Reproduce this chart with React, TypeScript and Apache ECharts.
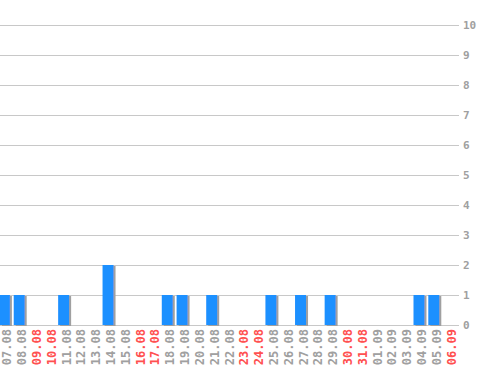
import React, { useEffect, useRef } from "react";
import * as echarts from "echarts";

const categories = [
  "07.08", "08.08", "09.08", "10.08", "11.08", "12.08", "13.08", "14.08", "15.08", "16.08",
  "17.08", "18.08", "19.08", "20.08", "21.08", "22.08", "23.08", "24.08", "25.08", "26.08",
  "27.08", "28.08", "29.08", "30.08", "31.08", "01.09", "02.09", "03.09", "04.09", "05.09", "06.09",
];
const values = [1, 1, 0, 0, 1, 0, 0, 2, 0, 0, 0, 1, 1, 0, 1, 0, 0, 0, 1, 0, 1, 0, 1, 0, 0, 0, 0, 0, 1, 1, 0];
const weekends = ["09.08", "10.08", "16.08", "17.08", "23.08", "24.08", "30.08", "31.08", "06.09"];
const yTicks = [0, 1, 2, 3, 4, 5, 6, 7, 8, 9, 10];

export default function App() {
  const ref = useRef<HTMLDivElement>(null);
  useEffect(() => {
    if (!ref.current) return;
    const chart = echarts.init(ref.current, null, { renderer: "svg" });
    const font = "'DejaVu Sans Mono', monospace";
    chart.setOption({
      animation: false,
      grid: { left: 0, right: 39, top: 25, bottom: 45, containLabel: false },
      xAxis: {
        type: "category",
        data: categories,
        axisLine: { show: false },
        axisTick: { show: false },
        axisLabel: {
          rotate: 90,
          margin: 4,
          interval: 0,
          fontFamily: font,
          fontSize: 12,
          fontWeight: "bold",
          color: (v: string) => (weekends.includes(v) ? "#ff5050" : "#a0a0a0"),
        },
      },
      yAxis: {
        type: "value",
        position: "right",
        min: yTicks[0],
        max: yTicks[yTicks.length - 1],
        interval: 1,
        axisLine: { show: false },
        axisTick: { show: false },
        splitLine: { lineStyle: { color: "#c8c8c8", width: 1 } },
        axisLabel: {
          margin: 4,
          fontFamily: font,
          fontSize: 11,
          fontWeight: "bold",
          color: "#a0a0a0",
        },
      },
      series: [
        {
          type: "bar",
          data: values.map((v) => (v === 0 ? "-" : v)),
          barWidth: 11,
          barGap: "0%",
          itemStyle: {
            color: "#1e90ff",
            shadowColor: "#a0a0a0",
            shadowOffsetX: 2,
            shadowOffsetY: 1,
            shadowBlur: 0,
          },
        },
        {
          type: "bar",
          data: categories.map(() => "-"),
          barWidth: 6,
          silent: true,
        },
      ],
    });
    return () => chart.dispose();
  }, []);
  return <div ref={ref} style={{ width: 498, height: 370, position: "absolute", left: 0, top: 0 }} />;
}
